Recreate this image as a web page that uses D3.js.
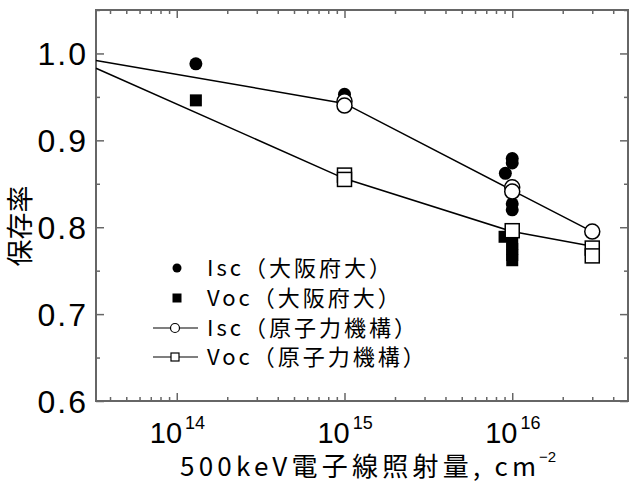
<!DOCTYPE html>
<html>
<head>
<meta charset="utf-8">
<script src="https://cdn.jsdelivr.net/npm/d3@7"></script>
<style>
  body { margin: 0; background: #fff; }
  svg text { font-family: "Noto Sans CJK JP", "Noto Sans", sans-serif; fill: #000; }
</style>
</head>
<body>
<div id="chart"></div>
<script>
const width = 633;
const height = 484;

// 大阪府大 measurements (filled markers)
const iscOsakaDose = [1.3e14, 1e15, 1e16, 1e16, 9.1e15, 1e16, 1e16];
const iscOsakaVal  = [0.988, 0.953, 0.879, 0.874, 0.862, 0.827, 0.820];
const vocOsakaDose = [1.3e14, 9e15, 1e16, 1e16, 1e16, 1e16];
const vocOsakaVal  = [0.946, 0.789, 0.781, 0.775, 0.768, 0.762];

// 原子力機構 measurements (open markers)
const iscJaeaDose = [1e15, 1e15, 1e16, 1e16, 3e16];
const iscJaeaVal  = [0.945, 0.940, 0.846, 0.841, 0.795];
const vocJaeaDose = [1e15, 1e15, 1e16, 3e16, 3e16];
const vocJaeaVal  = [0.860, 0.855, 0.796, 0.776, 0.767];

// fitted lines
const iscLineDose = [3.3e13, 1e15, 1e16, 3e16];
const iscLineVal  = [0.992, 0.9425, 0.8425, 0.795];
const vocLineDose = [3.3e13, 1e15, 1e16, 3e16];
const vocLineVal  = [0.983, 0.856, 0.795, 0.778];

const yTicks = [0.6, 0.7, 0.8, 0.9, 1.0];
const yMinor = [0.65, 0.75, 0.85, 0.95, 1.05];
const xMajor = [1e14, 1e15, 1e16];
const xMajorExp = ["14", "15", "16"];

const legendLabels = ["Isc（大阪府大）", "Voc（大阪府大）", "Isc（原子力機構）", "Voc（原子力機構）"];

const mLeft = 96, mRight = 628, mTop = 10, mBottom = 401;

const svg = d3.select("#chart").append("svg")
  .attr("width", width).attr("height", height);

const x = d3.scaleLog().domain([3.3e13, 4.9e16]).range([mLeft, mRight]);
const y = d3.scaleLinear().domain([0.6, 1.05]).range([mBottom, mTop]);

const xMinor = x.ticks().filter(d => !xMajor.includes(d));

const axisColor = "#666";

function styleAxis(g) {
  g.select(".domain").remove();
  g.selectAll(".tick line").attr("stroke", axisColor).attr("stroke-width", 1.5);
  g.selectAll(".tick text").remove();
}

// ticks on all four sides, pointing inward
svg.append("g").attr("transform", `translate(0,${mBottom})`)
  .call(d3.axisBottom(x).tickValues(xMajor).tickSize(-8)).call(styleAxis);
svg.append("g").attr("transform", `translate(0,${mBottom})`)
  .call(d3.axisBottom(x).tickValues(xMinor).tickSize(-4)).call(styleAxis);
svg.append("g").attr("transform", `translate(0,${mTop})`)
  .call(d3.axisTop(x).tickValues(xMajor).tickSize(-8)).call(styleAxis);
svg.append("g").attr("transform", `translate(0,${mTop})`)
  .call(d3.axisTop(x).tickValues(xMinor).tickSize(-4)).call(styleAxis);
svg.append("g").attr("transform", `translate(${mLeft},0)`)
  .call(d3.axisLeft(y).tickValues(yTicks).tickSize(-8)).call(styleAxis);
svg.append("g").attr("transform", `translate(${mLeft},0)`)
  .call(d3.axisLeft(y).tickValues(yMinor).tickSize(-4)).call(styleAxis);
svg.append("g").attr("transform", `translate(${mRight},0)`)
  .call(d3.axisRight(y).tickValues(yTicks).tickSize(-8)).call(styleAxis);
svg.append("g").attr("transform", `translate(${mRight},0)`)
  .call(d3.axisRight(y).tickValues(yMinor).tickSize(-4)).call(styleAxis);

svg.append("rect")
  .attr("x", mLeft).attr("y", mTop)
  .attr("width", mRight - mLeft).attr("height", mBottom - mTop)
  .attr("fill", "none").attr("stroke", axisColor).attr("stroke-width", 2);

// y tick labels
svg.append("g").selectAll("text").data(yTicks).join("text")
  .attr("x", mLeft - 8).attr("y", d => y(d) + 12)
  .attr("text-anchor", "end")
  .style("font-family", "Liberation Sans, Arial, sans-serif")
  .style("font-size", "32px")
  .style("letter-spacing", "2px")
  .text(d => d.toFixed(1));

// x tick labels 10^n
const xl = svg.append("g").selectAll("text").data(xMajor).join("text")
  .attr("x", d => x(d) - 27).attr("y", 443)
  .style("font-family", "Liberation Sans, Arial, sans-serif")
  .style("font-size", "29px");
xl.append("tspan").text("10");
xl.append("tspan").attr("dx", 3).attr("dy", -14).style("font-size", "18px").text((d, i) => xMajorExp[i]);

// axis titles
svg.append("text")
  .attr("transform", `translate(30,226) rotate(-90)`)
  .attr("text-anchor", "middle")
  .style("font-size", "27px")
  .text("保存率");

svg.append("text")
  .attr("x", 180).attr("y", 476)
  .attr("textLength", 356).attr("lengthAdjust", "spacing")
  .style("font-size", "26px")
  .text("500keV電子線照射量, cm");
svg.append("text")
  .attr("x", 539).attr("y", 462)
  .style("font-family", "Liberation Sans, Arial, sans-serif")
  .style("font-size", "15px")
  .text("−2");

// filled markers
const plot = svg.append("g");
plot.selectAll("circle.isc-osaka").data(iscOsakaDose).join("circle")
  .attr("cx", d => x(d)).attr("cy", (d, i) => y(iscOsakaVal[i]))
  .attr("r", 6.5).attr("fill", "#000");
plot.selectAll("rect.voc-osaka").data(vocOsakaDose).join("rect")
  .attr("x", d => x(d) - 6).attr("y", (d, i) => y(vocOsakaVal[i]) - 6)
  .attr("width", 12).attr("height", 12).attr("fill", "#000");

// lines
const line = d3.line().x(d => x(d[0])).y(d => y(d[1]));
plot.append("path")
  .attr("d", line(d3.zip(iscLineDose, iscLineVal)))
  .attr("fill", "none").attr("stroke", "#000").attr("stroke-width", 1.5);
plot.append("path")
  .attr("d", line(d3.zip(vocLineDose, vocLineVal)))
  .attr("fill", "none").attr("stroke", "#000").attr("stroke-width", 1.5);

// open markers
plot.selectAll("rect.voc-jaea").data(vocJaeaDose).join("rect")
  .attr("x", d => x(d) - 7).attr("y", (d, i) => y(vocJaeaVal[i]) - 7)
  .attr("width", 14).attr("height", 14)
  .attr("fill", "#fff").attr("stroke", "#000").attr("stroke-width", 1.5);
plot.selectAll("circle.isc-jaea").data(iscJaeaDose).join("circle")
  .attr("cx", d => x(d)).attr("cy", (d, i) => y(iscJaeaVal[i]))
  .attr("r", 7.5)
  .attr("fill", "#fff").attr("stroke", "#000").attr("stroke-width", 1.5);

// legend
const legend = svg.append("g");
const rowY = [268, 298, 328, 357];
legend.selectAll("text").data(legendLabels).join("text")
  .attr("x", 207).attr("y", (d, i) => rowY[i] + 8)
  .style("font-size", "22px")
  .style("letter-spacing", "3px")
  .text(d => d);
legend.append("circle").attr("cx", 177).attr("cy", rowY[0]).attr("r", 4.5).attr("fill", "#000");
legend.append("rect").attr("x", 172.5).attr("y", rowY[1] - 4.5).attr("width", 9).attr("height", 9).attr("fill", "#000");
[2, 3].forEach(i => {
  legend.append("line").attr("x1", 153).attr("x2", 198)
    .attr("y1", rowY[i]).attr("y2", rowY[i])
    .attr("stroke", "#000").attr("stroke-width", 1.2);
});
legend.append("circle").attr("cx", 175).attr("cy", rowY[2]).attr("r", 4.5)
  .attr("fill", "#fff").attr("stroke", "#000").attr("stroke-width", 1.2);
legend.append("rect").attr("x", 171).attr("y", rowY[3] - 4).attr("width", 8).attr("height", 8)
  .attr("fill", "#fff").attr("stroke", "#000").attr("stroke-width", 1.2);
</script>
</body>
</html>
